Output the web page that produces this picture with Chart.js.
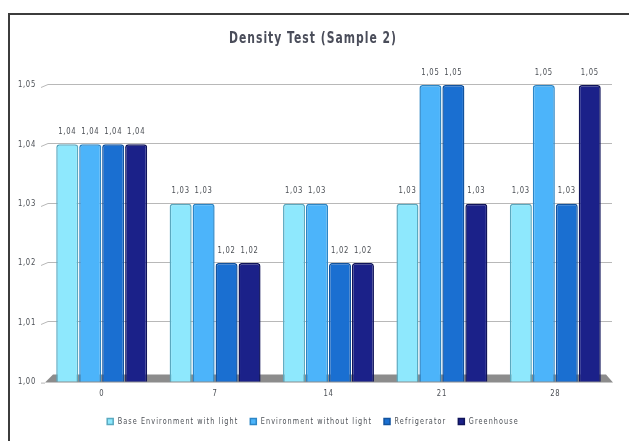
<!DOCTYPE html>
<html>
<head>
<meta charset="utf-8">
<title>Density Test (Sample 2)</title>
<script src="https://cdn.jsdelivr.net/npm/chart.js@4/dist/chart.umd.min.js"></script>
<style>
  html, body { margin: 0; padding: 0; background: #ffffff; overflow: hidden; }
  body { width: 629px; height: 441px; position: relative; }
  #frame {
    position: absolute; left: 8px; top: 13px; width: 700px; height: 500px;
    border-left: 2px solid #3c3c3c; border-top: 2px solid #3c3c3c;
  }
  #wrap { position: absolute; left: 0; top: 0; width: 629px; height: 441px; }
</style>
</head>
<body>
<div id="frame"></div>
<div id="wrap"><canvas id="chart" width="629" height="441"></canvas></div>
<script>
// Days of the test
const days = ['0', '7', '14', '21', '28'];

// Density readings per storage condition
const baseWithLight    = [1.04, 1.03, 1.03, 1.03, 1.03];
const withoutLight     = [1.04, 1.03, 1.03, 1.05, 1.05];
const refrigerator     = [1.04, 1.02, 1.02, 1.05, 1.03];
const greenhouse       = [1.04, 1.02, 1.02, 1.03, 1.05];

const seriesNames = ['Base Environment with light', 'Environment without light', 'Refrigerator', 'Greenhouse'];
const fills   = ['#8ee8fd', '#4cb4fa', '#1a6fd1', '#1b2189'];
const borders = ['#5aa9c0', '#2c86c6', '#12539f', '#10145a'];

// Y axis range and step
const yMin = 1.00, yMax = 1.05, yStep = 0.01;

const FONT = "'DejaVu Sans', sans-serif";
const TEXT = '#4b4f55';
const TITLE = '#4a4d5a';
const fmt = v => v.toFixed(2).replace('.', ',');

// Narrow, letter-spaced lettering: squeeze glyphs horizontally around the
// anchor point and report the squeezed widths to the layout code.
const SQUEEZE = 0.72;
function spacingFor(ctx) {
  const m = /([\d.]+)px/.exec(ctx.font);
  const px = m ? parseFloat(m[1]) : 10;
  if (px > 12) return '1.4px';   // title
  if (px < 9.25) return '1.5px'; // legend
  return '1px';                  // ticks and value captions
}
function narrowText(ctx) {
  const fill = ctx.fillText.bind(ctx);
  const measure = ctx.measureText.bind(ctx);
  ctx.fillText = function (text, x, y) {
    this.save();
    this.letterSpacing = spacingFor(this);
    this.translate(x, y);
    this.scale(SQUEEZE, 1);
    fill(text, 0, 0);
    this.restore();
  };
  ctx.measureText = function (text) {
    const prev = this.letterSpacing;
    this.letterSpacing = spacingFor(this);
    const m = measure(text);
    this.letterSpacing = prev;
    return {
      width: m.width * SQUEEZE,
      actualBoundingBoxAscent: m.actualBoundingBoxAscent,
      actualBoundingBoxDescent: m.actualBoundingBoxDescent,
      actualBoundingBoxLeft: m.actualBoundingBoxLeft * SQUEEZE,
      actualBoundingBoxRight: m.actualBoundingBoxRight * SQUEEZE
    };
  };
}

// grey floor and back-wall gridlines with a small perspective step
const wall = {
  id: 'wall',
  beforeDatasetsDraw(chart) {
    const { ctx, chartArea: a, scales: { y } } = chart;
    ctx.save();
    ctx.strokeStyle = '#b8b8b8';
    ctx.lineWidth = 1;
    y.ticks.forEach(t => {
      if (t.value <= yMin + 1e-9) return;
      const py = Math.round(y.getPixelForValue(t.value)) + 0.5;
      ctx.beginPath();
      ctx.moveTo(a.left - 4, py + 2);
      ctx.lineTo(a.left + 3, py - 1);
      ctx.lineTo(a.right, py - 1);
      ctx.stroke();
    });
    // bottom tick to the floor
    const by = y.getPixelForValue(yMin);
    ctx.beginPath();
    ctx.moveTo(a.left - 4, by + 1.5);
    ctx.lineTo(a.left, by + 1.5);
    ctx.stroke();
    // floor
    ctx.fillStyle = '#8c8c8c';
    ctx.beginPath();
    ctx.moveTo(a.left + 8, by - 7);
    ctx.lineTo(a.right - 6, by - 7);
    ctx.lineTo(a.right + 1, by + 1);
    ctx.lineTo(a.left, by + 1);
    ctx.closePath();
    ctx.fill();
    ctx.restore();
  }
};

// value captions above each bar
const valueLabels = {
  id: 'valueLabels',
  afterDatasetsDraw(chart) {
    const { ctx } = chart;
    ctx.save();
    ctx.font = '9.5px ' + FONT;
    ctx.fillStyle = TEXT;
    ctx.textAlign = 'center';
    ctx.textBaseline = 'bottom';
    chart.data.datasets.forEach((ds, i) => {
      chart.getDatasetMeta(i).data.forEach((bar, j) => {
        ctx.fillText(fmt(ds.data[j]), bar.x, bar.y - 8);
      });
    });
    ctx.restore();
  }
};

const series = [baseWithLight, withoutLight, refrigerator, greenhouse];

const canvas = document.getElementById('chart');
narrowText(canvas.getContext('2d'));

new Chart(canvas, {
  type: 'bar',
  data: {
    labels: days,
    datasets: series.map((d, i) => ({
      label: seriesNames[i],
      data: d,
      backgroundColor: fills[i],
      borderColor: borders[i],
      borderWidth: 1.5,
      borderSkipped: false,
      borderRadius: { topLeft: 3, topRight: 3, bottomLeft: 1, bottomRight: 1 },
      categoryPercentage: 0.81,
      barPercentage: 0.96
    }))
  },
  options: {
    responsive: false,
    animation: false,
    devicePixelRatio: 1,
    layout: { padding: { left: 14, right: 17, top: 0, bottom: 5 } },
    plugins: {
      title: {
        display: true,
        text: 'Density Test (Sample 2)',
        color: TITLE,
        font: { family: FONT, size: 15, weight: 'bold' },
        padding: { top: 30, bottom: 37 }
      },
      legend: {
        position: 'bottom',
        labels: {
          color: TEXT,
          font: { family: FONT, size: 9 },
          boxWidth: 6,
          boxHeight: 6,
          padding: 12
        }
      },
      tooltip: { enabled: false }
    },
    scales: {
      x: {
        grid: { display: false, drawTicks: false },
        border: { display: false },
        ticks: { color: TEXT, font: { family: FONT, size: 9.5 }, padding: 6 }
      },
      y: {
        min: yMin,
        max: yMax,
        grid: { display: false, drawTicks: false },
        border: { display: false },
        ticks: {
          stepSize: yStep,
          color: TEXT,
          font: { family: FONT, size: 9.5 },
          padding: 9,
          callback: v => fmt(v)
        },
        afterFit(scale) { scale.width = 31; }
      }
    }
  },
  plugins: [wall, valueLabels]
});
</script>
</body>
</html>
